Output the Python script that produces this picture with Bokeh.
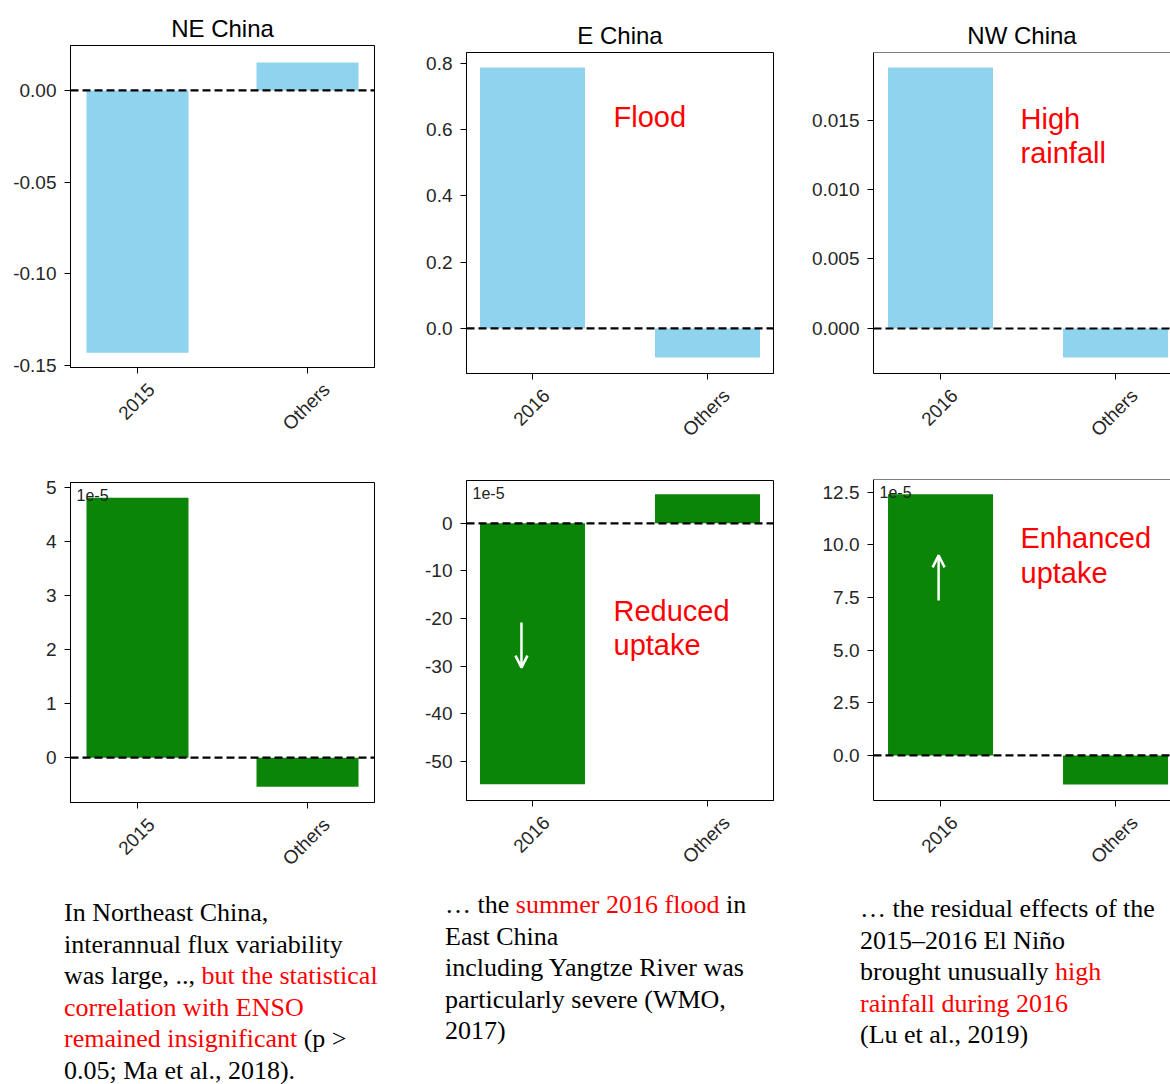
import math
from bokeh.plotting import figure
from bokeh.models import (Range1d, FixedTicker, NumeralTickFormatter, Span, Label,
                          Arrow, OpenHead, Div)
from bokeh.layouts import column, row
from bokeh.embed import file_html
from bokeh.resources import INLINE

# ---------------- data ----------------
titles = ["NE China", "E China", "NW China"]
cats_ne = ["2015", "Others"]
cats_e = ["2016", "Others"]
cats_nw = ["2016", "Others"]

flux_ne = [-0.143, 0.0153]
flux_e = [0.788, -0.0875]
flux_nw = [0.01878, -0.00209]

scale_label = "1e-5"          # values below are in units of 1e-5
uptake_ne = [4.81, -0.54]
uptake_e = [-54.8, 6.1]
uptake_nw = [12.4, -1.38]

yticks_flux_ne = [-0.15, -0.10, -0.05, 0.00]
yticks_flux_e = [0.0, 0.2, 0.4, 0.6, 0.8]
yticks_flux_nw = [0.0, 0.005, 0.010, 0.015]
yticks_up_ne = [0, 1, 2, 3, 4, 5]
yticks_up_e = [-50, -40, -30, -20, -10, 0]
yticks_up_nw = [0.0, 2.5, 5.0, 7.5, 10.0, 12.5]

notes = {
    "NE": [[("In Northeast China,", "black")],
           [("interannual flux variability", "black")],
           [("was large, .., ", "black"), ("but the statistical", "red")],
           [("correlation with ENSO", "red")],
           [("remained insignificant", "red"), (" (p >", "black")],
           [("0.05; Ma et al., 2018).", "black")]],
    "E": [[("\u2026 the ", "black"), ("summer 2016 flood", "red"), (" in", "black")],
          [("East China", "black")],
          [("including Yangtze River was", "black")],
          [("particularly severe (WMO,", "black")],
          [("2017)", "black")]],
    "NW": [[("\u2026 the residual effects of the", "black")],
           [("2015\u20132016 El Ni\u00f1o", "black")],
           [("brought unusually ", "black"), ("high", "red")],
           [("rainfall during 2016", "red")],
           [("(Lu et al., 2019)", "black")]],
}

BLUE = "#8fd3ee"
GREEN = "#0b8507"
RED = "#ff0000"
FONT = "Liberation Sans"
TICK_PX = 19
# approximate Liberation Sans advance widths (em) for label centring
CHAR_W = {"O": 0.778, "t": 0.278, "h": 0.556, "e": 0.556, "r": 0.333, "s": 0.5}


def text_width(s):
    return sum(CHAR_W.get(ch, 0.556) for ch in s) * TICK_PX


def make_panel(cats, vals, color, xr, yr, yticks, fmt, width, height, mb,
               title=None, open_right=False):
    p = figure(width=width, height=height, x_range=Range1d(*xr), y_range=Range1d(*yr),
               output_backend="svg", toolbar_location=None, tools="",
               min_border_left=mb[0], min_border_right=mb[1],
               min_border_top=mb[2], min_border_bottom=mb[3],
               title=title)
    xs = list(range(len(cats)))
    p.vbar(x=xs, top=vals, bottom=0, width=0.6, fill_color=color, line_color=None)
    p.add_layout(Span(location=0, dimension="width", line_color="black",
                      line_width=2.2, line_dash="8 4"))
    p.grid.visible = False

    # x axis: tick marks at the bars (minor ticks), rotated labels anchored so
    # that they end up centred below each tick (matplotlib rotation=45 look)
    px_per_unit = (width - mb[0] - mb[1]) / (xr[1] - xr[0])
    label_pos = [round(i + 0.33 * text_width(c) / px_per_unit, 4) for i, c in zip(xs, cats)]
    xa = p.xaxis[0]
    xa.ticker = FixedTicker(ticks=label_pos, minor_ticks=xs)
    xa.major_label_overrides = {lp: c for lp, c in zip(label_pos, cats)}
    xa.major_label_orientation = math.pi / 4
    xa.major_tick_line_color = None
    xa.major_tick_out = 0
    xa.major_tick_in = 0
    xa.minor_tick_line_color = "black"
    xa.minor_tick_out = 6
    xa.minor_tick_in = 0
    xa.axis_line_color = "black"
    xa.major_label_standoff = 13
    xa.major_label_text_font = FONT
    xa.major_label_text_font_size = "%dpx" % TICK_PX
    xa.major_label_text_color = "#262626"

    ya = p.yaxis[0]
    ya.ticker = FixedTicker(ticks=yticks)
    ya.formatter = NumeralTickFormatter(format=fmt)
    ya.minor_tick_line_color = None
    ya.major_tick_out = 6
    ya.major_tick_in = 0
    ya.axis_line_color = "black"
    ya.major_tick_line_color = "black"
    ya.major_label_text_font = FONT
    ya.major_label_text_font_size = "%dpx" % TICK_PX
    ya.major_label_text_color = "#262626"
    ya.major_label_standoff = 8

    if open_right:
        p.outline_line_color = None
        p.add_layout(Span(location=yr[1], dimension="width", line_color="black", line_width=1))
    else:
        p.outline_line_color = "black"
        p.outline_line_alpha = 1
    if title:
        p.title.align = "center"
        p.title.text_font = FONT
        p.title.text_font_size = "24px"
        p.title.text_font_style = "normal"
        p.title.text_color = "black"
        p.title.standoff = 7
    return p


def add_note(p, x, y, text, size="29px"):
    p.add_layout(Label(x=x, y=y, text=text, text_color=RED, text_font=FONT,
                       text_font_size=size, text_baseline="middle"))


def add_scale(p, xr, yr):
    p.add_layout(Label(x=xr[0], y=yr[1], x_offset=6, y_offset=-6, text=scale_label,
                       text_baseline="top", text_font=FONT, text_font_size="16px",
                       text_color="#222222"))


# ---------------- top row ----------------
xr_ne = (-0.394, 1.394)
xr_e = (-0.377, 1.377)
xr_nw = (-0.383, 1.314)

yr_a = (-0.151, 0.0245)
yr_b = (-0.136, 0.833)
yr_c = (-0.00324, 0.01986)

pa = make_panel(cats_ne, flux_ne, BLUE, xr_ne, yr_a, yticks_flux_ne, "0.00",
                384, 470, (70, 10, 45, 103), title=titles[0])
pb = make_panel(cats_e, flux_e, BLUE, xr_e, yr_b, yticks_flux_e, "0.0",
                399, 470, (82, 10, 52, 97), title=titles[1])
add_note(pb, 0.463, 0.637, "Flood")
pc = make_panel(cats_nw, flux_nw, BLUE, xr_nw, yr_c, yticks_flux_nw, "0.000",
                387, 470, (90, 0, 52, 97), title=titles[2], open_right=True)
add_note(pc, 0.457, 0.01511, "High")
add_note(pc, 0.457, 0.01266, "rainfall")

# ---------------- bottom row ----------------
yr_d = (-0.83, 5.09)
yr_e = (-58.2, 9.0)
yr_f = (-2.14, 13.1)

pd_ = make_panel(cats_ne, uptake_ne, GREEN, xr_ne, yr_d, yticks_up_ne, "0",
                 384, 410, (70, 10, 12, 78))
add_scale(pd_, xr_ne, yr_d)
pe = make_panel(cats_e, uptake_e, GREEN, xr_e, yr_e, yticks_up_e, "0",
                399, 410, (82, 10, 10, 80))
add_scale(pe, xr_e, yr_e)
add_note(pe, 0.463, -18.3, "Reduced")
add_note(pe, 0.463, -25.6, "uptake")
pe.add_layout(Arrow(x_start=-0.063, y_start=-20.8, x_end=-0.063, y_end=-30.3,
                    line_color="white", line_width=2.5,
                    end=OpenHead(size=12, line_color="white", line_width=2.5)))
pf = make_panel(cats_nw, uptake_nw, GREEN, xr_nw, yr_f, yticks_up_nw, "0.0",
                387, 410, (90, 0, 9, 80), open_right=True)
add_scale(pf, xr_nw, yr_f)
add_note(pf, 0.457, 10.31, "Enhanced")
add_note(pf, 0.457, 8.65, "uptake")
pf.add_layout(Arrow(x_start=-0.011, y_start=7.36, x_end=-0.011, y_end=9.5,
                    line_color="white", line_width=2.5,
                    end=OpenHead(size=12, line_color="white", line_width=2.5)))

# ---------------- text captions ----------------
def block_html(lines, left, first_center, spacing, origin_y=880):
    out = []
    for i, parts in enumerate(lines):
        c = first_center + i * spacing
        top = c - 10 - origin_y
        spans = "".join('<span style="color:%s">%s</span>' % ("#ff0000" if col == "red" else "#000000", txt)
                        for txt, col in parts)
        out.append('<div style="position:absolute;left:%dpx;top:%.1fpx;line-height:20px;'
                   'white-space:nowrap;">%s</div>' % (left, top, spans))
    return "".join(out)


html = ('<div style="position:relative;width:1170px;height:204px;'
        'font-family:\'Liberation Serif\',serif;font-size:26px;color:#000;">'
        + block_html(notes["NE"], 64, 913, 31.6)
        + block_html(notes["E"], 445, 905, 31.5)
        + block_html(notes["NW"], 860, 909, 31.5)
        + '</div>')
captions = Div(text=html, width=1170, height=204, margin=(0, 0, 0, 0))

layout = column(row(column(pa, pd_), column(pb, pe), column(pc, pf)), captions)

open("out.html", "w").write(file_html(layout, INLINE))
